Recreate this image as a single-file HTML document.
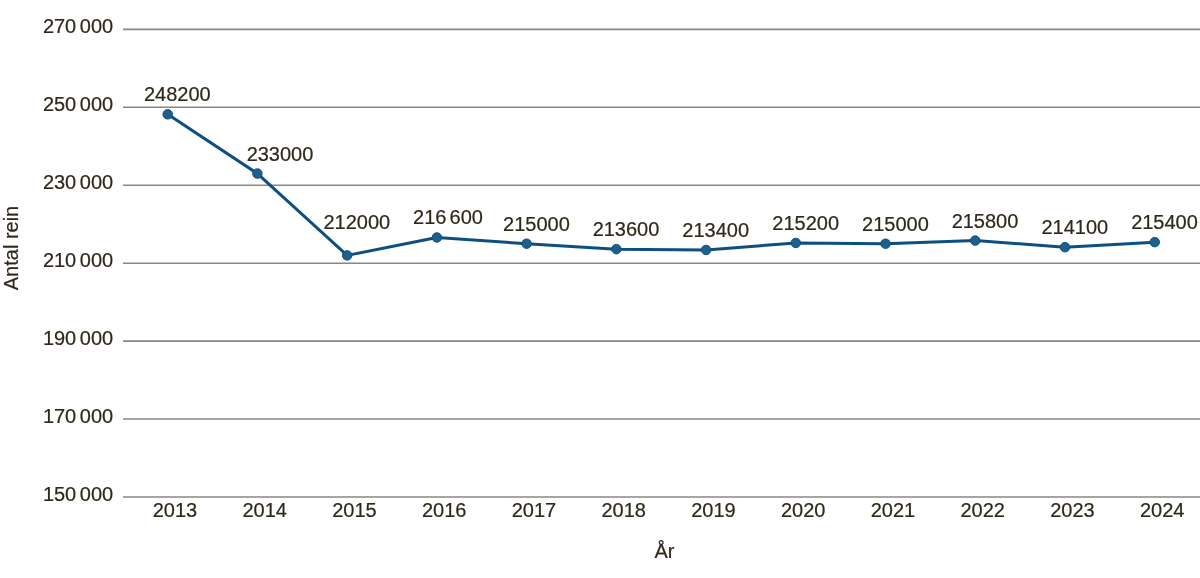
<!DOCTYPE html><html><head><meta charset="utf-8"><style>html,body{margin:0;padding:0;background:#fff;}svg{display:block;will-change:transform}text{font-family:"Liberation Sans",sans-serif;stroke:#2d2819;stroke-width:0.2px;}</style></head><body>
<svg width="1200" height="578" viewBox="0 0 1200 578">
<line x1="123" y1="29.37" x2="1200" y2="29.37" stroke="#888782" stroke-width="1.55"/>
<line x1="123" y1="107.31" x2="1200" y2="107.31" stroke="#888782" stroke-width="1.55"/>
<line x1="123" y1="185.25" x2="1200" y2="185.25" stroke="#888782" stroke-width="1.55"/>
<line x1="123" y1="263.19" x2="1200" y2="263.19" stroke="#888782" stroke-width="1.55"/>
<line x1="123" y1="341.13" x2="1200" y2="341.13" stroke="#888782" stroke-width="1.55"/>
<line x1="123" y1="419.07" x2="1200" y2="419.07" stroke="#888782" stroke-width="1.55"/>
<line x1="123" y1="497.01" x2="1200" y2="497.01" stroke="#888782" stroke-width="1.55"/>
<text x="113.2" y="32.97" font-size="20" fill="#2d2819" text-anchor="end">270<tspan dx="-2"> </tspan>000</text>
<text x="113.2" y="110.91" font-size="20" fill="#2d2819" text-anchor="end">250<tspan dx="-2"> </tspan>000</text>
<text x="113.2" y="188.85" font-size="20" fill="#2d2819" text-anchor="end">230<tspan dx="-2"> </tspan>000</text>
<text x="113.2" y="266.79" font-size="20" fill="#2d2819" text-anchor="end">210<tspan dx="-2"> </tspan>000</text>
<text x="113.2" y="344.73" font-size="20" fill="#2d2819" text-anchor="end">190<tspan dx="-2"> </tspan>000</text>
<text x="113.2" y="422.67" font-size="20" fill="#2d2819" text-anchor="end">170<tspan dx="-2"> </tspan>000</text>
<text x="113.2" y="500.61" font-size="20" fill="#2d2819" text-anchor="end">150<tspan dx="-2"> </tspan>000</text>
<text x="174.90" y="517" font-size="20" fill="#2d2819" text-anchor="middle">2013</text>
<text x="264.65" y="517" font-size="20" fill="#2d2819" text-anchor="middle">2014</text>
<text x="354.40" y="517" font-size="20" fill="#2d2819" text-anchor="middle">2015</text>
<text x="444.15" y="517" font-size="20" fill="#2d2819" text-anchor="middle">2016</text>
<text x="533.90" y="517" font-size="20" fill="#2d2819" text-anchor="middle">2017</text>
<text x="623.65" y="517" font-size="20" fill="#2d2819" text-anchor="middle">2018</text>
<text x="713.40" y="517" font-size="20" fill="#2d2819" text-anchor="middle">2019</text>
<text x="803.15" y="517" font-size="20" fill="#2d2819" text-anchor="middle">2020</text>
<text x="892.90" y="517" font-size="20" fill="#2d2819" text-anchor="middle">2021</text>
<text x="982.65" y="517" font-size="20" fill="#2d2819" text-anchor="middle">2022</text>
<text x="1072.40" y="517" font-size="20" fill="#2d2819" text-anchor="middle">2023</text>
<text x="1162.15" y="517" font-size="20" fill="#2d2819" text-anchor="middle">2024</text>
<polyline points="167.70,114.32 257.43,173.56 347.16,255.40 436.89,237.47 526.62,243.70 616.35,249.16 706.08,249.94 795.81,242.93 885.54,243.70 975.27,240.59 1065.00,247.21 1154.73,242.15" fill="none" stroke="#0d4f81" stroke-width="3" stroke-linejoin="round"/>
<circle cx="167.70" cy="114.32" r="4.75" fill="#1f5f8b" stroke="#0d4f81" stroke-width="1"/>
<circle cx="257.43" cy="173.56" r="4.75" fill="#1f5f8b" stroke="#0d4f81" stroke-width="1"/>
<circle cx="347.16" cy="255.40" r="4.75" fill="#1f5f8b" stroke="#0d4f81" stroke-width="1"/>
<circle cx="436.89" cy="237.47" r="4.75" fill="#1f5f8b" stroke="#0d4f81" stroke-width="1"/>
<circle cx="526.62" cy="243.70" r="4.75" fill="#1f5f8b" stroke="#0d4f81" stroke-width="1"/>
<circle cx="616.35" cy="249.16" r="4.75" fill="#1f5f8b" stroke="#0d4f81" stroke-width="1"/>
<circle cx="706.08" cy="249.94" r="4.75" fill="#1f5f8b" stroke="#0d4f81" stroke-width="1"/>
<circle cx="795.81" cy="242.93" r="4.75" fill="#1f5f8b" stroke="#0d4f81" stroke-width="1"/>
<circle cx="885.54" cy="243.70" r="4.75" fill="#1f5f8b" stroke="#0d4f81" stroke-width="1"/>
<circle cx="975.27" cy="240.59" r="4.75" fill="#1f5f8b" stroke="#0d4f81" stroke-width="1"/>
<circle cx="1065.00" cy="247.21" r="4.75" fill="#1f5f8b" stroke="#0d4f81" stroke-width="1"/>
<circle cx="1154.73" cy="242.15" r="4.75" fill="#1f5f8b" stroke="#0d4f81" stroke-width="1"/>
<text x="177.30" y="101.00" font-size="20" fill="#2d2819" text-anchor="middle">248200</text>
<text x="280.00" y="160.80" font-size="20" fill="#2d2819" text-anchor="middle">233000</text>
<text x="356.80" y="229.10" font-size="20" fill="#2d2819" text-anchor="middle">212000</text>
<text x="448.00" y="224.40" font-size="20" fill="#2d2819" text-anchor="middle">216<tspan dx="-2.5"> </tspan>600</text>
<text x="536.40" y="230.70" font-size="20" fill="#2d2819" text-anchor="middle">215000</text>
<text x="626.00" y="236.10" font-size="20" fill="#2d2819" text-anchor="middle">213600</text>
<text x="715.70" y="237.00" font-size="20" fill="#2d2819" text-anchor="middle">213400</text>
<text x="805.70" y="230.10" font-size="20" fill="#2d2819" text-anchor="middle">215200</text>
<text x="895.40" y="230.70" font-size="20" fill="#2d2819" text-anchor="middle">215000</text>
<text x="985.00" y="227.70" font-size="20" fill="#2d2819" text-anchor="middle">215800</text>
<text x="1074.80" y="234.00" font-size="20" fill="#2d2819" text-anchor="middle">214100</text>
<text x="1164.50" y="229.20" font-size="20" fill="#2d2819" text-anchor="middle">215400</text>
<text transform="translate(18,248) rotate(-90)" font-size="20" fill="#2d2819" text-anchor="middle">Antal rein</text>
<text x="664.4" y="557.7" font-size="20" fill="#2d2819" text-anchor="middle">År</text>
</svg></body></html>
